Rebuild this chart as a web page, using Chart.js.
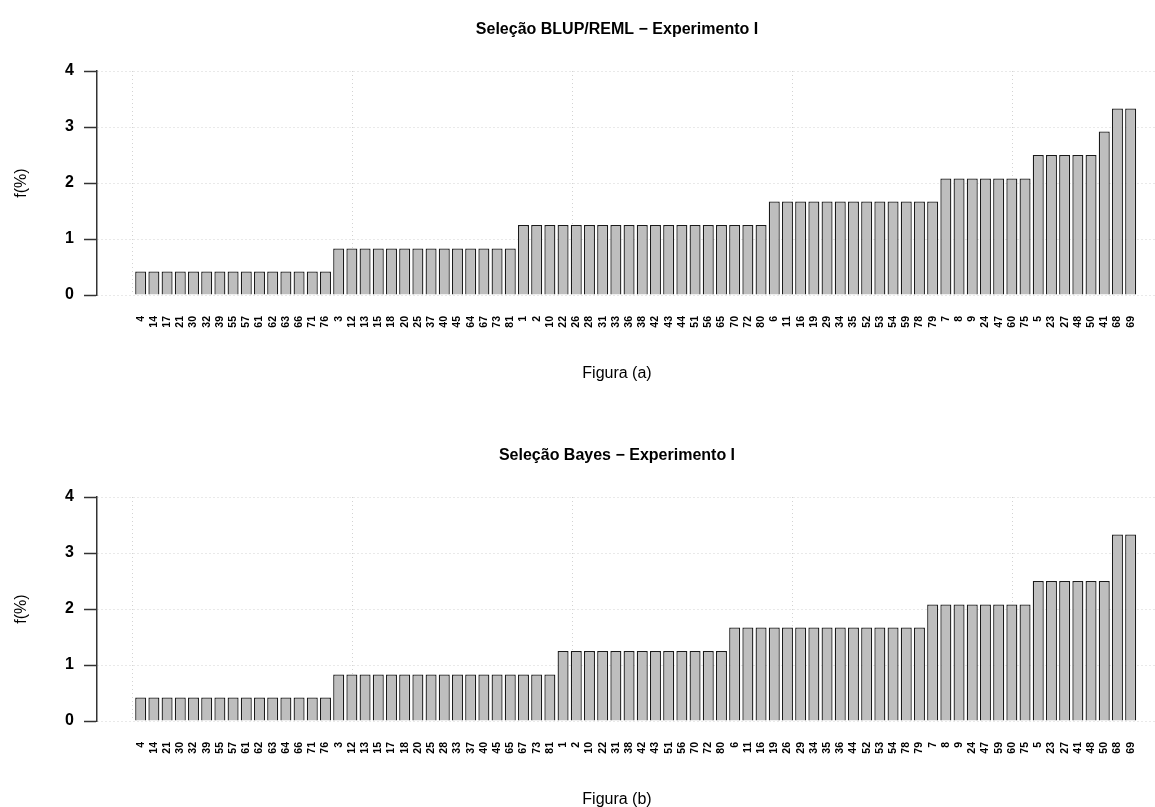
<!DOCTYPE html>
<html>
<head>
<meta charset="utf-8">
<script src="https://cdn.jsdelivr.net/npm/chart.js@4.4.1/dist/chart.umd.min.js"></script>
<style>
    body { margin: 0; background: #fff; overflow: hidden; }
    canvas { position: absolute; left: 0; }
    #chartA { top: 0; }
    #chartB { top: 426px; }
</style>
</head>
<body>
<canvas id="chartA" width="1234" height="426"></canvas>
<canvas id="chartB" width="1234" height="426"></canvas>
<script>
// Figura (a) - BLUP/REML
const labelsA = ['4', '14', '17', '21', '30', '32', '39', '55', '57', '61', '62', '63', '66', '71', '76',
    '3', '12', '13', '15', '18', '20', '25', '37', '40', '45', '64', '67', '73', '81',
    '1', '2', '10', '22', '26', '28', '31', '33', '36', '38', '42', '43', '44', '51', '56', '65', '70', '72', '80',
    '6', '11', '16', '19', '29', '34', '35', '52', '53', '54', '59', '78', '79',
    '7', '8', '9', '24', '47', '60', '75',
    '5', '23', '27', '48', '50',
    '41',
    '68', '69'];
const valuesA = [0.42, 0.42, 0.42, 0.42, 0.42, 0.42, 0.42, 0.42, 0.42, 0.42, 0.42, 0.42, 0.42, 0.42, 0.42,
    0.83, 0.83, 0.83, 0.83, 0.83, 0.83, 0.83, 0.83, 0.83, 0.83, 0.83, 0.83, 0.83, 0.83,
    1.25, 1.25, 1.25, 1.25, 1.25, 1.25, 1.25, 1.25, 1.25, 1.25, 1.25, 1.25, 1.25, 1.25, 1.25, 1.25, 1.25, 1.25, 1.25,
    1.67, 1.67, 1.67, 1.67, 1.67, 1.67, 1.67, 1.67, 1.67, 1.67, 1.67, 1.67, 1.67,
    2.08, 2.08, 2.08, 2.08, 2.08, 2.08, 2.08,
    2.5, 2.5, 2.5, 2.5, 2.5,
    2.92,
    3.33, 3.33];

// Figura (b) - Bayes
const labelsB = ['4', '14', '21', '30', '32', '39', '55', '57', '61', '62', '63', '64', '66', '71', '76',
    '3', '12', '13', '15', '17', '18', '20', '25', '28', '33', '37', '40', '45', '65', '67', '73', '81',
    '1', '2', '10', '22', '31', '38', '42', '43', '51', '56', '70', '72', '80',
    '6', '11', '16', '19', '26', '29', '34', '35', '36', '44', '52', '53', '54', '78', '79',
    '7', '8', '9', '24', '47', '59', '60', '75',
    '5', '23', '27', '41', '48', '50',
    '68', '69'];
const valuesB = [0.42, 0.42, 0.42, 0.42, 0.42, 0.42, 0.42, 0.42, 0.42, 0.42, 0.42, 0.42, 0.42, 0.42, 0.42,
    0.83, 0.83, 0.83, 0.83, 0.83, 0.83, 0.83, 0.83, 0.83, 0.83, 0.83, 0.83, 0.83, 0.83, 0.83, 0.83, 0.83,
    1.25, 1.25, 1.25, 1.25, 1.25, 1.25, 1.25, 1.25, 1.25, 1.25, 1.25, 1.25, 1.25,
    1.67, 1.67, 1.67, 1.67, 1.67, 1.67, 1.67, 1.67, 1.67, 1.67, 1.67, 1.67, 1.67, 1.67, 1.67,
    2.08, 2.08, 2.08, 2.08, 2.08, 2.08, 2.08, 2.08,
    2.5, 2.5, 2.5, 2.5, 2.5, 2.5,
    3.33, 3.33];

const yTicks = [0, 1, 2, 3, 4];
const gridStepsX = [0, 20, 40, 60, 80, 100];

const FONT = "'Liberation Sans', Arial, sans-serif";

function makeChart(canvasId, title, caption, labels, values) {
    const ctx = document.getElementById(canvasId).getContext('2d');
    return new Chart(ctx, {
        type: 'bar',
        data: {
            datasets: [{
                data: values.map((v, i) => ({ x: i, y: v })),
                backgroundColor: '#bebebe',
                borderColor: '#1a1a1a',
                borderWidth: 1.3,
                categoryPercentage: 1,
                barPercentage: 1 / 1.2
            }]
        },
        options: {
            responsive: false,
            animation: false,
            devicePixelRatio: 1,
            layout: { padding: 0 },
            plugins: {
                legend: { display: false },
                tooltip: { enabled: false },
                title: {
                    display: true,
                    text: title,
                    color: '#000',
                    font: { family: FONT, size: 16, weight: 'bold', lineHeight: 1.2 },
                    padding: { top: 20.4, bottom: 31.4 }
                },
                subtitle: {
                    display: true,
                    position: 'bottom',
                    text: caption,
                    color: '#000',
                    font: { family: FONT, size: 16, weight: 'normal', lineHeight: 1.2 },
                    padding: { top: 8, bottom: 42.4 }
                }
            },
            scales: {
                x: {
                    type: 'linear',
                    position: 'bottom',
                    offset: false,
                    min: -3.31,
                    max: 82.83,
                    grid: { display: false, drawTicks: false, offset: false },
                    border: { display: false },
                    afterBuildTicks: scale => {
                        scale.ticks = labels.map((_, i) => ({ value: i }));
                    },
                    afterFit: scale => {
                        scale.height = 61.4;
                        scale.paddingLeft = 0;
                        scale.paddingRight = 0;
                    },
                    ticks: {
                        autoSkip: false,
                        minRotation: 90,
                        maxRotation: 90,
                        padding: 21,
                        color: '#000',
                        font: { family: FONT, size: 10.5, weight: 'bold' },
                        callback: v => labels[v]
                    }
                },
                // R units (bar i sits at 0.7 + 1.2 * i), used only for the dotted vertical grid
                xg: {
                    type: 'linear',
                    position: 'bottom',
                    offset: false,
                    min: -3.272,
                    max: 100.1,
                    z: 1,
                    afterBuildTicks: scale => {
                        scale.ticks = gridStepsX.map(v => ({ value: v }));
                    },
                    afterFit: scale => { scale.height = 0; },
                    ticks: { display: false },
                    grid: { color: '#d3d3d3', lineWidth: 1, drawTicks: false, offset: false },
                    border: { display: false, dash: [1, 3] }
                },
                y: {
                    min: 0,
                    max: 4,
                    z: 1,
                    afterBuildTicks: scale => {
                        scale.ticks = yTicks.map(v => ({ value: v }));
                    },
                    afterFit: scale => { scale.width = 97; },
                    grid: {
                        color: '#d3d3d3',
                        lineWidth: 1,
                        tickLength: 13,
                        tickColor: '#333333',
                        tickWidth: 1.5,
                        tickBorderDash: []
                    },
                    border: { display: true, color: '#333333', width: 1.5, dash: [1, 3] },
                    ticks: {
                        padding: 10,
                        color: '#000',
                        font: { family: FONT, size: 16, weight: 'bold' }
                    },
                    title: {
                        display: true,
                        text: 'f(%)',
                        color: '#000',
                        font: { family: FONT, size: 16, weight: 'normal', lineHeight: 1.2 },
                        padding: { top: 12.4, bottom: 0 }
                    }
                }
            }
        }
    });
}

makeChart('chartA', 'Seleção BLUP/REML − Experimento I', 'Figura (a)', labelsA, valuesA);
makeChart('chartB', 'Seleção Bayes − Experimento I', 'Figura (b)', labelsB, valuesB);
</script>
</body>
</html>
